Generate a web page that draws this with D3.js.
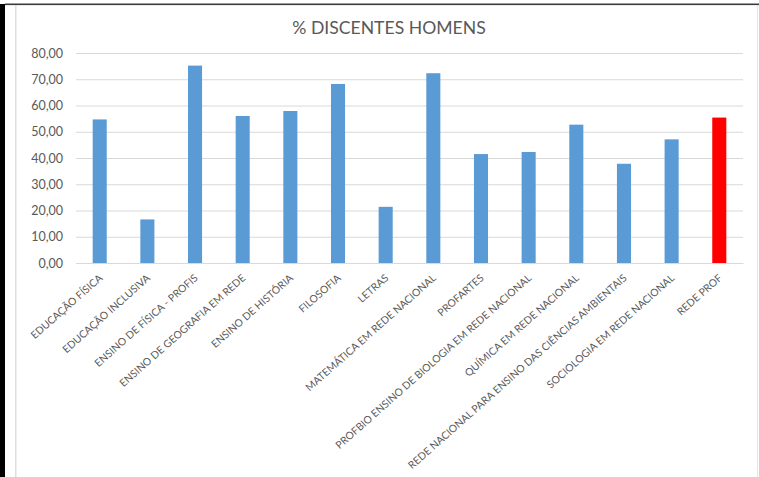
<!DOCTYPE html>
<html>
<head>
<meta charset="utf-8">
<script src="https://cdn.jsdelivr.net/npm/d3@7"></script>
<style>
  html, body { margin: 0; padding: 0; background: #fff; }
  svg { display: block; }
</style>
</head>
<body>
<svg id="chart" width="759" height="477"></svg>
<script>
// Share of male students per programme (%)
const categories = [
  "EDUCAÇÃO FÍSICA",
  "EDUCAÇÃO INCLUSIVA",
  "ENSINO DE FÍSICA  - PROFIS",
  "ENSINO DE GEOGRAFIA EM REDE",
  "ENSINO DE HISTÓRIA",
  "FILOSOFIA",
  "LETRAS",
  "MATEMÁTICA EM REDE NACIONAL",
  "PROFARTES",
  "PROFBIO ENSINO DE BIOLOGIA EM REDE NACIONAL",
  "QUÍMICA EM REDE NACIONAL",
  "REDE NACIONAL PARA ENSINO DAS CIÊNCIAS AMBIENTAIS",
  "SOCIOLOGIA EM REDE NACIONAL",
  "REDE PROF"
];
const values = [54.7, 16.6, 75.2, 56.0, 57.9, 68.2, 21.4, 72.3, 41.5, 42.3, 52.7, 37.8, 47.1, 55.4];
const highlighted = ["REDE PROF"];
const yTicks = [0, 10, 20, 30, 40, 50, 60, 70, 80];
const title = "% DISCENTES HOMENS";

const svg = d3.select("#chart");
const W = 759, H = 477;
const font = "Lato, 'Open Sans', sans-serif";

// frame
svg.append("rect").attr("x", 0).attr("y", 0).attr("width", W).attr("height", H).attr("fill", "#fff");
svg.append("rect").attr("x", 0).attr("y", 4).attr("width", 5).attr("height", H - 4).attr("fill", "#000");
svg.append("rect").attr("x", 5).attr("y", 3.5).attr("width", W - 5).attr("height", 1.6).attr("fill", "#3a3a3a");
svg.append("line").attr("x1", 15.8).attr("x2", 15.8).attr("y1", 5).attr("y2", H)
  .attr("stroke", "#d9d9d9").attr("stroke-width", 1.3);
svg.append("line").attr("x1", 757.5).attr("x2", 757.5).attr("y1", 5).attr("y2", H)
  .attr("stroke", "#e6e6e6").attr("stroke-width", 1);

const plot = { left: 76, right: 743, top: 53, bottom: 263 };

const x = d3.scaleBand().domain(categories).range([plot.left, plot.right])
  .paddingInner(0.705).paddingOuter(0.35);
const y = d3.scaleLinear().domain([0, 80]).range([plot.bottom, plot.top]);

// title
svg.append("text").attr("x", 389).attr("y", 34)
  .attr("text-anchor", "middle").attr("font-family", font).attr("font-size", 17.6)
  .attr("fill", "#595959").text(title);

// gridlines + y labels
const yAxis = d3.axisLeft(y).tickValues(yTicks).tickSize(-(plot.right - plot.left)).tickPadding(13)
  .tickFormat(d => d3.format(".2f")(d).replace(".", ","));
const gy = svg.append("g").attr("transform", `translate(${plot.left},0)`).call(yAxis);
gy.select(".domain").remove();
gy.selectAll(".tick line").attr("stroke", "#d9d9d9").attr("stroke-width", 1);
gy.selectAll(".tick text").attr("font-family", font).attr("font-size", 12.5).attr("fill", "#595959");

// bars
svg.append("g").selectAll("rect").data(categories).join("rect")
  .attr("x", d => x(d))
  .attr("width", x.bandwidth())
  .attr("y", (d, i) => y(values[i]))
  .attr("height", (d, i) => y(0) - y(values[i]))
  .attr("fill", d => highlighted.includes(d) ? "#ff0000" : "#5b9bd5");

// category labels, slanted
const xAxis = d3.axisBottom(x).tickSize(0).tickPadding(0);
const gx = svg.append("g").attr("transform", `translate(0,${plot.bottom})`).call(xAxis);
gx.select(".domain").attr("stroke", "#d9d9d9");
gx.selectAll(".tick text")
  .attr("font-family", font).attr("font-size", 10.4).attr("fill", "#595959")
  .attr("text-anchor", "end")
  .attr("dy", null).attr("y", 0)
  .attr("transform", "translate(3.5,16) rotate(-41.5)");
</script>
</body>
</html>
